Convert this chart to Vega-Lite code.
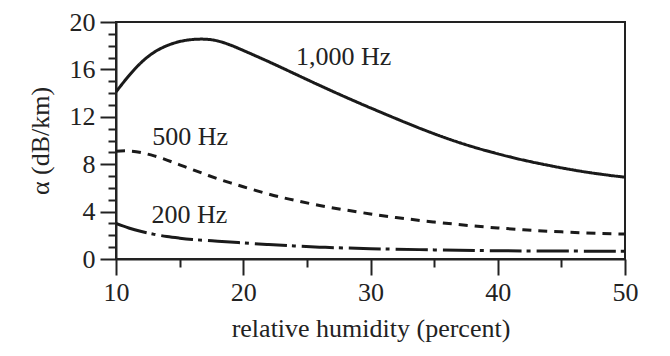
{
  "$schema": "https://vega.github.io/schema/vega-lite/v6.json",
  "width": 509,
  "height": 237,
  "autosize": {"type": "none"},
  "padding": {"left": 116, "top": 22, "right": 45, "bottom": 97},
  "background": "white",
  "config": {
    "view": {"stroke": "#222", "strokeWidth": 2},
    "font": "Liberation Serif",
    "axis": {
      "labelFont": "Liberation Serif",
      "titleFont": "Liberation Serif",
      "labelFontSize": 26,
      "titleFontSize": 26,
      "labelColor": "#222",
      "titleColor": "#222",
      "titleFontWeight": "normal",
      "domainColor": "#222",
      "domainWidth": 2,
      "tickColor": "#222",
      "tickWidth": 2,
      "grid": false
    }
  },
  "datasets": {
    "curves": [
      {"humidity": 10, "alpha": 14.1, "freq": "1,000 Hz"},
      {"humidity": 11, "alpha": 15.45, "freq": "1,000 Hz"},
      {"humidity": 12, "alpha": 16.6, "freq": "1,000 Hz"},
      {"humidity": 13, "alpha": 17.45, "freq": "1,000 Hz"},
      {"humidity": 14, "alpha": 18.0, "freq": "1,000 Hz"},
      {"humidity": 15, "alpha": 18.35, "freq": "1,000 Hz"},
      {"humidity": 16, "alpha": 18.52, "freq": "1,000 Hz"},
      {"humidity": 17, "alpha": 18.55, "freq": "1,000 Hz"},
      {"humidity": 18, "alpha": 18.4, "freq": "1,000 Hz"},
      {"humidity": 19, "alpha": 18.05, "freq": "1,000 Hz"},
      {"humidity": 20, "alpha": 17.6, "freq": "1,000 Hz"},
      {"humidity": 22, "alpha": 16.65, "freq": "1,000 Hz"},
      {"humidity": 24, "alpha": 15.65, "freq": "1,000 Hz"},
      {"humidity": 26, "alpha": 14.65, "freq": "1,000 Hz"},
      {"humidity": 28, "alpha": 13.68, "freq": "1,000 Hz"},
      {"humidity": 30, "alpha": 12.75, "freq": "1,000 Hz"},
      {"humidity": 32, "alpha": 11.85, "freq": "1,000 Hz"},
      {"humidity": 34, "alpha": 10.98, "freq": "1,000 Hz"},
      {"humidity": 36, "alpha": 10.18, "freq": "1,000 Hz"},
      {"humidity": 38, "alpha": 9.48, "freq": "1,000 Hz"},
      {"humidity": 40, "alpha": 8.88, "freq": "1,000 Hz"},
      {"humidity": 42, "alpha": 8.35, "freq": "1,000 Hz"},
      {"humidity": 44, "alpha": 7.9, "freq": "1,000 Hz"},
      {"humidity": 46, "alpha": 7.5, "freq": "1,000 Hz"},
      {"humidity": 48, "alpha": 7.17, "freq": "1,000 Hz"},
      {"humidity": 50, "alpha": 6.9, "freq": "1,000 Hz"},
      {"humidity": 10, "alpha": 9.1, "freq": "500 Hz"},
      {"humidity": 11, "alpha": 9.12, "freq": "500 Hz"},
      {"humidity": 12, "alpha": 8.97, "freq": "500 Hz"},
      {"humidity": 13, "alpha": 8.7, "freq": "500 Hz"},
      {"humidity": 14, "alpha": 8.35, "freq": "500 Hz"},
      {"humidity": 15, "alpha": 7.95, "freq": "500 Hz"},
      {"humidity": 16, "alpha": 7.55, "freq": "500 Hz"},
      {"humidity": 17, "alpha": 7.15, "freq": "500 Hz"},
      {"humidity": 18, "alpha": 6.77, "freq": "500 Hz"},
      {"humidity": 19, "alpha": 6.42, "freq": "500 Hz"},
      {"humidity": 20, "alpha": 6.1, "freq": "500 Hz"},
      {"humidity": 22, "alpha": 5.48, "freq": "500 Hz"},
      {"humidity": 24, "alpha": 4.96, "freq": "500 Hz"},
      {"humidity": 26, "alpha": 4.52, "freq": "500 Hz"},
      {"humidity": 28, "alpha": 4.14, "freq": "500 Hz"},
      {"humidity": 30, "alpha": 3.8, "freq": "500 Hz"},
      {"humidity": 32, "alpha": 3.5, "freq": "500 Hz"},
      {"humidity": 35, "alpha": 3.12, "freq": "500 Hz"},
      {"humidity": 38, "alpha": 2.8, "freq": "500 Hz"},
      {"humidity": 40, "alpha": 2.62, "freq": "500 Hz"},
      {"humidity": 42, "alpha": 2.47, "freq": "500 Hz"},
      {"humidity": 45, "alpha": 2.29, "freq": "500 Hz"},
      {"humidity": 48, "alpha": 2.16, "freq": "500 Hz"},
      {"humidity": 50, "alpha": 2.1, "freq": "500 Hz"},
      {"humidity": 10, "alpha": 3.0, "freq": "200 Hz"},
      {"humidity": 11, "alpha": 2.62, "freq": "200 Hz"},
      {"humidity": 12, "alpha": 2.32, "freq": "200 Hz"},
      {"humidity": 13, "alpha": 2.08, "freq": "200 Hz"},
      {"humidity": 14, "alpha": 1.9, "freq": "200 Hz"},
      {"humidity": 15, "alpha": 1.76, "freq": "200 Hz"},
      {"humidity": 16, "alpha": 1.65, "freq": "200 Hz"},
      {"humidity": 18, "alpha": 1.5, "freq": "200 Hz"},
      {"humidity": 20, "alpha": 1.36, "freq": "200 Hz"},
      {"humidity": 22, "alpha": 1.22, "freq": "200 Hz"},
      {"humidity": 24, "alpha": 1.1, "freq": "200 Hz"},
      {"humidity": 26, "alpha": 1.0, "freq": "200 Hz"},
      {"humidity": 28, "alpha": 0.93, "freq": "200 Hz"},
      {"humidity": 30, "alpha": 0.87, "freq": "200 Hz"},
      {"humidity": 35, "alpha": 0.77, "freq": "200 Hz"},
      {"humidity": 40, "alpha": 0.7, "freq": "200 Hz"},
      {"humidity": 45, "alpha": 0.67, "freq": "200 Hz"},
      {"humidity": 50, "alpha": 0.65, "freq": "200 Hz"}
    ],
    "labels": [
      {"humidity": 24.15, "alpha": 16.35, "label": "1,000 Hz"},
      {"humidity": 12.85, "alpha": 9.62, "label": "500 Hz"},
      {"humidity": 12.78, "alpha": 3.01, "label": "200 Hz"}
    ]
  },
  "layer": [
    {
      "data": {"name": "curves"},
      "mark": {"type": "line", "interpolate": "natural", "strokeWidth": 3, "color": "#1a1a1a", "clip": true},
      "encoding": {
        "x": {
          "field": "humidity", "type": "quantitative",
          "scale": {"domain": [10, 50], "nice": false, "zero": false},
          "axis": {
            "orient": "bottom",
            "values": [10, 20, 30, 40, 50],
            "tickSize": 16,
            "labelPadding": 4,
            "labelFlush": false,
            "title": "relative humidity (percent)",
            "titleY": 77,
            "titleBaseline": "alphabetic"
          }
        },
        "y": {
          "field": "alpha", "type": "quantitative",
          "scale": {"domain": [0, 20], "nice": false},
          "axis": {
            "orient": "left",
            "values": [0, 4, 8, 12, 16, 20],
            "tickSize": 16,
            "labelPadding": 5,
            "labelFlush": false,
            "title": "α (dB/km)",
            "titleAngle": 270,
            "titleX": -68,
            "titleY": 118.5,
            "titleAlign": "center",
            "titleBaseline": "alphabetic"
          }
        },
        "detail": {"field": "freq"},
        "strokeDash": {
          "field": "freq", "type": "nominal",
          "scale": {"domain": ["1,000 Hz", "500 Hz", "200 Hz"], "range": [[1, 0], [9, 7], [32, 5, 4, 6]]},
          "legend": null
        }
      }
    },
    {
      "data": {"name": "labels"},
      "mark": {"type": "text", "align": "left", "baseline": "alphabetic", "fontSize": 26, "font": "Liberation Serif", "color": "#222"},
      "encoding": {
        "x": {
          "field": "humidity", "type": "quantitative",
          "axis": {"orient": "bottom", "values": [15, 25, 35, 45], "tickSize": 8, "labels": false, "domain": false, "title": null}
        },
        "y": {
          "field": "alpha", "type": "quantitative",
          "axis": {"orient": "left", "values": [1, 2, 3, 5, 6, 7, 9, 10, 11, 13, 14, 15, 17, 18, 19], "tickSize": 8, "labels": false, "domain": false, "title": null}
        },
        "text": {"field": "label"}
      }
    }
  ],
  "resolve": {"axis": {"x": "independent", "y": "independent"}}
}
